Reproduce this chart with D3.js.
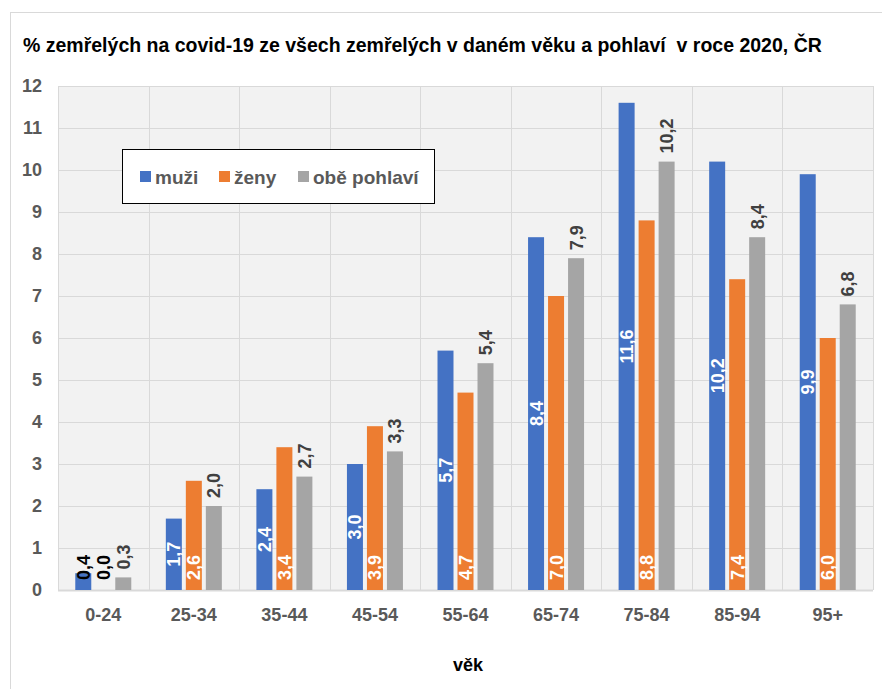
<!DOCTYPE html>
<html>
<head>
<meta charset="utf-8">
<script src="https://cdn.jsdelivr.net/npm/d3@7"></script>
<style>
  body { margin: 0; background: #fff; }
  svg { display: block; font-family: "Liberation Sans", Arial, sans-serif; }
</style>
</head>
<body>
<script>
// data
const categories = ["0-24", "25-34", "35-44", "45-54", "55-64", "65-74", "75-84", "85-94", "95+"];
const muzi = [0.4, 1.7, 2.4, 3.0, 5.7, 8.4, 11.6, 10.2, 9.9];
const zeny = [0.0, 2.6, 3.4, 3.9, 4.7, 7.0, 8.8, 7.4, 6.0];
const obe = [0.3, 2.0, 2.7, 3.3, 5.4, 7.9, 10.2, 8.4, 6.8];
const seriesNames = ["muži", "ženy", "obě pohlaví"];
const yTicks = [0, 1, 2, 3, 4, 5, 6, 7, 8, 9, 10, 11, 12];

const colors = ["#4472c4", "#ed7d31", "#a5a5a5"];
const series = [muzi, zeny, obe];

const svg = d3.select("body").append("svg")
  .attr("width", 882)
  .attr("height", 689);

// chart frame
svg.append("rect")
  .attr("x", 10.5).attr("y", 12.5)
  .attr("width", 900).attr("height", 700)
  .attr("fill", "#fff").attr("stroke", "#d9d9d9");

svg.append("text")
  .attr("x", 23).attr("y", 52)
  .attr("font-size", 19.5).attr("font-weight", "bold").attr("fill", "#000")
  .text("% zemřelých na covid-19 ze všech zemřelých v daném věku a pohlaví  v roce 2020, ČR")
  .style("white-space", "pre");

const x = d3.scaleBand().domain(categories).range([58, 873]);
const xs = d3.scaleBand().domain(d3.range(3)).range([-30, 30]).paddingInner(0.2).paddingOuter(0.1);
const y = d3.scaleLinear().domain([0, 12]).range([590, 86]);

// plot background
svg.append("rect")
  .attr("x", 58).attr("y", y(12))
  .attr("width", 815).attr("height", y(0) - y(12))
  .attr("fill", "#f2f2f2");

// gridlines
svg.append("g").selectAll("line").data(yTicks).join("line")
  .attr("x1", 58).attr("x2", 873)
  .attr("y1", d => Math.round(y(d)) + 0.5).attr("y2", d => Math.round(y(d)) + 0.5)
  .attr("stroke", "#d9d9d9").attr("stroke-width", d => d === 0 ? 2 : 1);

svg.append("g").selectAll("line").data(categories.concat(["end"])).join("line")
  .attr("x1", (d, i) => Math.round(58 + i * x.step()) + 0.5)
  .attr("x2", (d, i) => Math.round(58 + i * x.step()) + 0.5)
  .attr("y1", y(12)).attr("y2", y(0))
  .attr("stroke", "#d9d9d9");

// y axis labels
svg.append("g").selectAll("text").data(yTicks).join("text")
  .attr("x", 42).attr("y", d => y(d))
  .attr("dy", "0.35em")
  .attr("text-anchor", "end")
  .attr("font-size", 18).attr("font-weight", "bold").attr("fill", "#595959")
  .text(d => d);

// x axis labels
svg.append("g").selectAll("text").data(categories).join("text")
  .attr("x", d => x(d) + x.bandwidth() / 2).attr("y", 621)
  .attr("text-anchor", "middle")
  .attr("font-size", 18).attr("font-weight", "bold").attr("fill", "#595959")
  .text(d => d);

svg.append("text")
  .attr("x", 468).attr("y", 671)
  .attr("text-anchor", "middle")
  .attr("font-size", 18).attr("font-weight", "bold").attr("fill", "#000")
  .text("věk");

// bars
const fmt = v => v.toFixed(1).replace(".", ",");
const barData = [];
series.forEach((vals, s) => {
  vals.forEach((v, i) => barData.push({ s: s, cat: categories[i], v: v }));
});

svg.append("g").selectAll("rect").data(barData).join("rect")
  .attr("x", d => x(d.cat) + x.bandwidth() / 2 + xs(d.s))
  .attr("width", xs.bandwidth())
  .attr("y", d => y(d.v))
  .attr("height", d => y(0) - y(d.v))
  .attr("fill", d => colors[d.s]);

// data labels, rotated
const lab = svg.append("g");
barData.forEach(d => {
  const cx = x(d.cat) + x.bandwidth() / 2 + xs(d.s) + xs.bandwidth() / 2;
  const h = y(0) - y(d.v);
  let py, anchor, col;
  if (d.s === 2) {
    py = y(d.v) - 8; anchor = "start"; col = "#404040";
  } else if (h < 40) {
    py = y(0) - 10; anchor = "start"; col = "#000";
  } else if (d.s === 0) {
    py = y(d.v / 2); anchor = "middle"; col = "#fff";
  } else {
    py = y(0) - 10; anchor = "start"; col = "#fff";
  }
  lab.append("text")
    .attr("transform", `translate(${cx + 6.5},${py}) rotate(-90)`)
    .attr("text-anchor", anchor)
    .attr("font-size", 18).attr("font-weight", "bold").attr("fill", col)
    .text(fmt(d.v));
});

// legend
const lg = svg.append("g");
lg.append("rect")
  .attr("x", 122.5).attr("y", 149.5).attr("width", 312).attr("height", 54)
  .attr("fill", "#fff").attr("stroke", "#000");
const legX = [140, 219, 298];
seriesNames.forEach((n, i) => {
  lg.append("rect").attr("x", legX[i]).attr("y", 171).attr("width", 11).attr("height", 11).attr("fill", colors[i]);
  lg.append("text").attr("x", legX[i] + 15).attr("y", 184)
    .attr("font-size", 19).attr("font-weight", "bold").attr("fill", "#595959")
    .text(n);
});
</script>
</body>
</html>
